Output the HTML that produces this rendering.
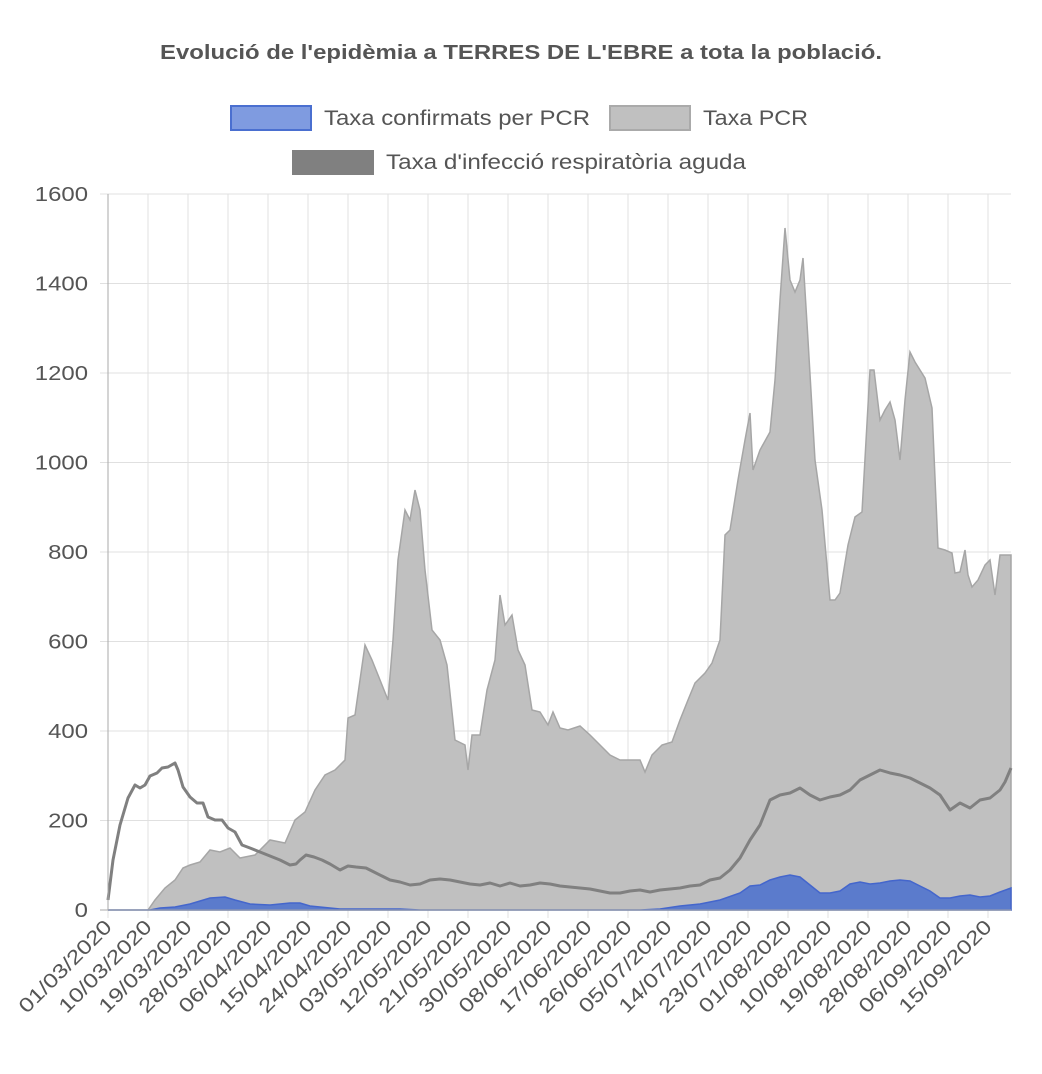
<!DOCTYPE html>
<html><head><meta charset="utf-8"><style>
body{margin:0;background:#fff}
svg{display:block;font-family:"Liberation Sans",Arial,sans-serif}
</style></head><body>
<svg width="1042" height="1074" viewBox="0 0 1042 1074">
<text x="160" y="59" textLength="722" lengthAdjust="spacingAndGlyphs" font-size="20" font-weight="bold" fill="#555">Evolució de l'epidèmia a TERRES DE L'EBRE a tota la població.</text>
<rect x="231" y="106" width="80" height="24" fill="#7f9be0" stroke="#4a6fd0" stroke-width="2"/>
<text x="324" y="125" font-size="21" textLength="266" lengthAdjust="spacingAndGlyphs" fill="#555">Taxa confirmats per PCR</text>
<rect x="610" y="106" width="80" height="24" fill="#c0c0c0" stroke="#aaa" stroke-width="2"/>
<text x="703" y="125" font-size="21" textLength="105" lengthAdjust="spacingAndGlyphs" fill="#555">Taxa PCR</text>
<rect x="292" y="150" width="82" height="25" fill="#808080"/>
<text x="386" y="169" font-size="21" textLength="360" lengthAdjust="spacingAndGlyphs" fill="#555">Taxa d'infecció respiratòria aguda</text>
<g stroke="#e0e0e0" stroke-width="1" id="grid"></g>
<g font-size="20" fill="#555" text-anchor="end" id="yl"></g>
<g font-size="20" fill="#555" text-anchor="end" id="xl"></g>
<path id="pcr" fill="#c0c0c0" stroke="#a6a6a6" stroke-width="1.5"/>
<path id="blue" fill="#5b7bcc" stroke="#4466cc" stroke-width="1.5"/>
<path id="resp" fill="none" stroke="#808080" stroke-width="3" stroke-linejoin="round"/>
<line x1="108" y1="194" x2="108" y2="910" stroke="#aaa"/>
<line x1="100" y1="910" x2="1011" y2="910" stroke="#aaa"/>
</svg>
<script>
const ns="http://www.w3.org/2000/svg";
const g=document.getElementById('grid'),yl=document.getElementById('yl'),xl=document.getElementById('xl');
function el(t,a,p,txt){const e=document.createElementNS(ns,t);for(const k in a)e.setAttribute(k,a[k]);if(txt)e.textContent=txt;p.appendChild(e);}
for(let i=0;i<=8;i++){const y=910-i*89.5;el('line',{x1:100,x2:1011,y1:y,y2:y},g);const s=String(i*200);el('text',{x:88,y:y+7,textLength:s.length*13.3,lengthAdjust:'spacingAndGlyphs'},yl,s);}
const d=["01/03/2020","10/03/2020","19/03/2020","28/03/2020","06/04/2020","15/04/2020","24/04/2020","03/05/2020","12/05/2020","21/05/2020","30/05/2020","08/06/2020","17/06/2020","26/06/2020","05/07/2020","14/07/2020","23/07/2020","01/08/2020","10/08/2020","19/08/2020","28/08/2020","06/09/2020","15/09/2020"];
d.forEach((s,i)=>{const x=108+i*40;el('line',{x1:x,x2:x,y1:194,y2:918},g);el('text',{x:x+5,y:928,textLength:122,lengthAdjust:'spacingAndGlyphs',transform:`rotate(-45 ${x+5} 928)`},xl,s);});
function P(a,close){let s='M'+a[0]+','+a[1];for(let i=2;i<a.length;i+=2)s+='L'+a[i]+','+a[i+1];if(close)s+='L1011,910L108,910Z';return s;}
const pcr=[108,910,148,910,155,900,165,888,175,880,183,868,190,865,200,862,210,850,220,852,230,848,240,858,255,855,270,840,285,843,295,820,305,812,315,790,325,775,335,770,345,760,348,718,355,715,365,645,372,660,380,680,388,700,393,640,398,560,405,510,410,520,415,490,420,510,425,570,432,630,440,640,447,665,455,740,465,745,468,770,472,735,480,735,487,690,495,660,500,595,505,625,512,615,518,650,525,665,532,710,540,712,548,725,553,712,560,728,568,730,580,726,590,735,600,745,610,755,620,760,625,760,640,760,645,772,652,755,662,745,672,742,680,720,688,700,695,683,705,673,712,663,720,640,725,535,730,530,738,480,745,440,750,413,753,470,760,450,770,432,775,380,780,300,785,228,790,280,795,292,800,280,803,258,808,340,815,460,822,510,830,600,835,600,840,593,848,545,855,517,862,512,870,370,874,370,880,420,885,410,890,402,895,420,900,460,905,400,910,352,915,362,925,378,932,408,938,548,945,550,952,553,955,573,960,572,965,550,968,575,972,587,978,580,985,565,990,560,995,595,1000,555,1011,555];
const resp=[108,900,113,860,120,825,128,798,135,785,140,788,145,785,150,776,157,773,162,768,168,767,175,763,178,770,183,787,190,797,197,803,203,803,208,817,215,820,222,820,228,828,235,832,242,845,250,848,260,852,270,856,280,860,290,865,296,864,300,860,306,855,314,857,322,860,330,864,340,870,348,866,356,867,366,868,374,872,382,876,390,880,400,882,410,885,420,884,430,880,440,879,450,880,460,882,470,884,480,885,490,883,500,886,510,883,520,886,530,885,540,883,550,884,560,886,570,887,580,888,590,889,600,891,610,893,620,893,630,891,640,890,650,892,660,890,670,889,680,888,690,886,700,885,710,880,720,878,730,870,740,858,750,840,760,825,770,800,780,795,790,793,800,788,810,795,820,800,830,797,840,795,850,790,860,780,870,775,880,770,890,773,900,775,910,778,920,783,930,788,940,795,950,810,960,803,970,808,980,800,990,798,1000,790,1005,782,1011,768];
const blue=[108,910,150,910,160,908,175,907,190,904,210,898,225,897,235,900,250,904,270,905,290,903,300,903,310,906,340,909,400,909,420,910,640,910,660,909,680,906,700,904,720,900,740,893,750,886,760,885,770,880,780,877,790,875,800,877,810,885,820,893,830,893,840,891,850,884,860,882,870,884,880,883,890,881,900,880,910,881,920,886,930,891,940,898,950,898,960,896,970,895,980,897,990,896,1000,892,1011,888];
document.getElementById('pcr').setAttribute('d',P(pcr,1));
document.getElementById('blue').setAttribute('d',P(blue,1));
document.getElementById('resp').setAttribute('d',P(resp,0));
</script>
</body></html>
